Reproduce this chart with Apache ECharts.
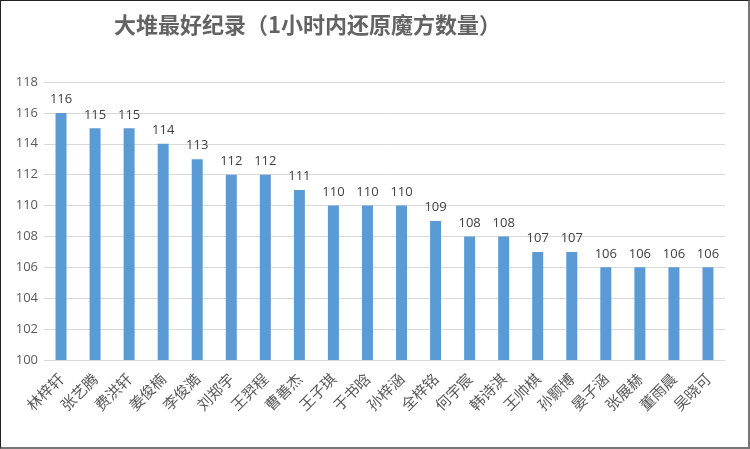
<!DOCTYPE html>
<html>
<head>
<meta charset="utf-8">
<script src="https://cdn.jsdelivr.net/npm/echarts@6/dist/echarts.min.js"></script>
<style>
  html, body { margin: 0; padding: 0; background: #fff; }
  #chart { width: 750px; height: 449px; box-sizing: border-box; border: 1px solid #222; border-right-color: #777; border-bottom-color: #777; border-right-width: 2px; border-bottom-width: 2px; }
</style>
</head>
<body>
<div id="chart"></div>
<script>
let names = ['林梓轩', '张艺腾', '费洪轩', '姜俊楠', '李俊澔', '刘郑宇', '王羿程', '曹善杰', '王子琪', '于书晗',
  '孙梓涵', '全梓铭', '何宇宸', '韩诗淇', '王帅棋', '孙颢博', '晏子涵', '张展赫', '董雨晨', '吴晓可'];
let counts = [116, 115, 115, 114, 113, 112, 112, 111, 110, 110,
  110, 109, 108, 108, 107, 107, 106, 106, 106, 106];

let chart = echarts.init(document.getElementById('chart'));
chart.setOption({
  backgroundColor: '#fff',
  animation: false,
  title: {
    text: '大堆最好纪录（1小时内还原魔方数量）',
    left: 108,
    top: 8,
    textStyle: { color: '#636363', fontSize: 22, fontWeight: 'bold', fontFamily: 'Noto Sans CJK SC' }
  },
  grid: { left: 43, right: 23, top: 81, bottom: 87 },
  xAxis: {
    type: 'category',
    data: names,
    axisLine: { lineStyle: { color: '#d9d9d9' } },
    axisTick: { show: false },
    axisLabel: { interval: 0, rotate: 45, color: '#595959', fontSize: 15, fontFamily: 'Noto Sans CJK SC', margin: 16 }
  },
  yAxis: {
    type: 'value',
    min: 100,
    max: 118,
    interval: 2,
    axisLine: { show: false },
    axisTick: { show: false },
    axisLabel: { color: '#595959', fontSize: 13, fontFamily: 'Open Sans', margin: 6 },
    splitLine: { lineStyle: { color: '#d9d9d9' } }
  },
  series: [{
    type: 'bar',
    data: counts,
    barWidth: 11,
    itemStyle: { color: '#5b9bd5' },
    label: { show: true, position: 'top', color: '#404040', fontSize: 13, fontFamily: 'Open Sans', distance: 7 }
  }]
});
</script>
</body>
</html>
